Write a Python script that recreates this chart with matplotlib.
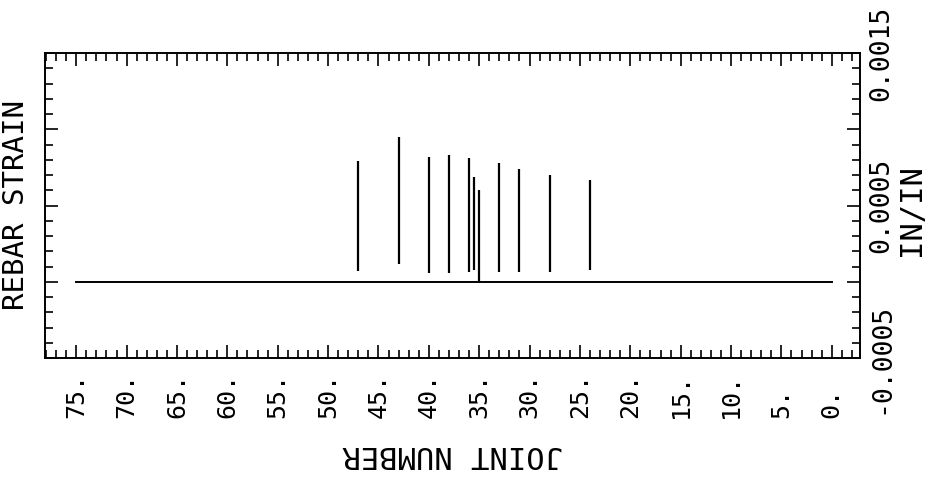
import matplotlib
matplotlib.use("Agg")
import matplotlib.pyplot as plt
from matplotlib.ticker import MultipleLocator

# Rebar strain measured at each joint (in/in): each reading is drawn as a
# vertical segment from its lower to its upper strain value.
joints = [47, 43, 40, 38, 36, 35.5, 35, 33, 31, 28, 24]
strain_top = [0.00079, 0.00095, 0.00082, 0.00083, 0.00081, 0.00069,
              0.00060, 0.00078, 0.00074, 0.00070, 0.00067]
strain_bottom = [0.00007, 0.000115, 0.000055, 0.00006, 0.000065, 0.000075,
                 0.0, 0.000065, 0.000065, 0.000065, 0.00008]

# Zero-strain reference line along the member
baseline_joints = [75, 0]
baseline_strain = [0.0, 0.0]

# Axis ticks and labels
joint_ticks = [75, 70, 65, 60, 55, 50, 45, 40, 35, 30, 25, 20, 15, 10, 5, 0]
joint_tick_labels = ["75.", "70.", "65.", "60.", "55.", "50.", "45.", "40.",
                     "35.", "30.", "25.", "20.", "15.", "10.", "5.", "0."]
strain_ticks = [-0.0005, 0.0, 0.0005, 0.001, 0.0015]
strain_tick_labels = ["-0.0005", "", "0.0005", "", "0.0015"]

FONT = "DejaVu Sans Mono"
plt.rcParams["font.family"] = [FONT, "DejaVu Sans"]

fig = plt.figure(figsize=(9.32, 4.87), dpi=100)
ax = fig.add_axes([45 / 932, 1 - 358 / 487, 815 / 932, 305 / 487])

ax.vlines(joints, strain_bottom, strain_top, colors="black", linewidth=1.6)
ax.plot(baseline_joints, baseline_strain, color="black", linewidth=1.4)

# Joint numbers decrease to the right
ax.set_xlim(78.1, -2.8)
ax.set_ylim(-0.0005, 0.0015)

for side in ax.spines.values():
    side.set_linewidth(1.4)

ax.set_xticks(joint_ticks, labels=joint_tick_labels)
ax.xaxis.set_minor_locator(MultipleLocator(1))
ax.set_yticks(strain_ticks, labels=strain_tick_labels)
ax.yaxis.set_minor_locator(MultipleLocator(0.0001))

ax.tick_params(which="both", direction="in", top=True, right=True,
               color="black", width=1.2)
ax.tick_params(which="major", length=9.5)
ax.tick_params(which="minor", length=5.5)

ax.tick_params(axis="x", which="major", labelsize=18, labelrotation=90, pad=43)
for lbl in ax.get_xticklabels():
    lbl.set_verticalalignment("bottom")
    lbl.set_horizontalalignment("center")

ax.tick_params(axis="y", which="major", labelleft=False, labelright=True,
               labelsize=19, labelrotation=90, pad=5.8)
for lbl in ax.get_yticklabels(which="major"):
    lbl.set_verticalalignment("center")
    lbl.set_horizontalalignment("left")

# Axis titles
ax.set_xlabel("JOINT NUMBER", fontsize=22, rotation=180)
ax.xaxis.label.set_rotation_mode("default")
ax.xaxis.label.set_verticalalignment("center")
ax.xaxis.label.set_horizontalalignment("center")
ax.xaxis.set_label_coords(0.5, -0.315)

ax.set_ylabel("REBAR STRAIN", fontsize=21, rotation=90)
ax.yaxis.label.set_rotation_mode("default")
ax.yaxis.label.set_verticalalignment("center")
ax.yaxis.label.set_horizontalalignment("center")
ax.yaxis.set_label_coords(-0.0356, 0.5)

ax.text(1.0638, 0.485, "IN/IN", transform=ax.transAxes, fontsize=22,
        rotation=90, ha="center", va="center")

fig.savefig("out.png", dpi=100, facecolor="white")
